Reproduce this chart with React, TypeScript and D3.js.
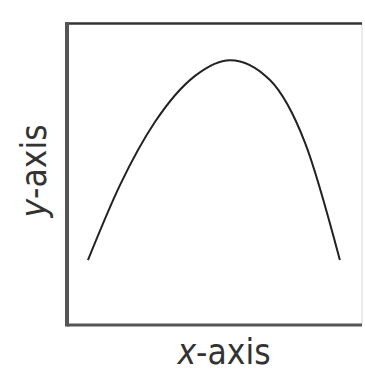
import React from 'react';
import * as d3 from 'd3';

// points along the curve, in plot units (0-100 on both axes)
const xValues = [7.1, 18.0, 29.8, 43.4, 55.3, 68.8, 80.7, 92.5];
const yValues = [21.5, 46.4, 67.2, 82.5, 87.7, 81.1, 60.3, 21.5];
const xLabel = ['x', '-axis'];
const yLabel = ['y', '-axis'];

const W = 365;
const H = 369;

export default function App() {
  const x = d3.scaleLinear().domain([0, 100]).range([67, 362]);
  const y = d3.scaleLinear().domain([0, 100]).range([325, 23]);

  const pts: [number, number][] = xValues.map((v, i) => [v, yValues[i]]);
  const line = d3.line<[number, number]>()
    .x(d => x(d[0]))
    .y(d => y(d[1]))
    .curve(d3.curveMonotoneX);

  const font = '"DejaVu Sans Condensed", "DejaVu Sans", sans-serif';

  return (
    <svg width={W} height={H} style={{position: 'absolute', left: 0, top: 0, background: '#fff'}}>
      <line x1={x(100)} x2={x(100)} y1={y(0)} y2={y(100)} stroke="#d8d8d8" strokeWidth={1} />
      <line x1={x(0)} x2={x(100)} y1={y(100) + 0.5} y2={y(100) + 0.5} stroke="#333" strokeWidth={2.5} />
      <line x1={x(0)} x2={x(100)} y1={y(0)} y2={y(0)} stroke="#555" strokeWidth={3} />
      <line x1={x(0)} x2={x(0)} y1={y(100) - 1} y2={y(0) + 1.5} stroke="#555" strokeWidth={4} />

      <path d={line(pts) || ''} fill="none" stroke="#222" strokeWidth={2} />

      <text x={224} y={364} textAnchor="middle" fontFamily={font} fontSize={35}
        fill="#333" style={{fontStretch: 'condensed'}}>
        <tspan fontStyle="italic">{xLabel[0]}</tspan>{xLabel[1]}
      </text>
      <text transform={`translate(46,${y(50) - 3}) rotate(-90)`} textAnchor="middle"
        fontFamily={font} fontSize={35} fill="#333" style={{fontStretch: 'condensed'}}>
        <tspan fontStyle="italic">{yLabel[0]}</tspan>{yLabel[1]}
      </text>
    </svg>
  );
}
